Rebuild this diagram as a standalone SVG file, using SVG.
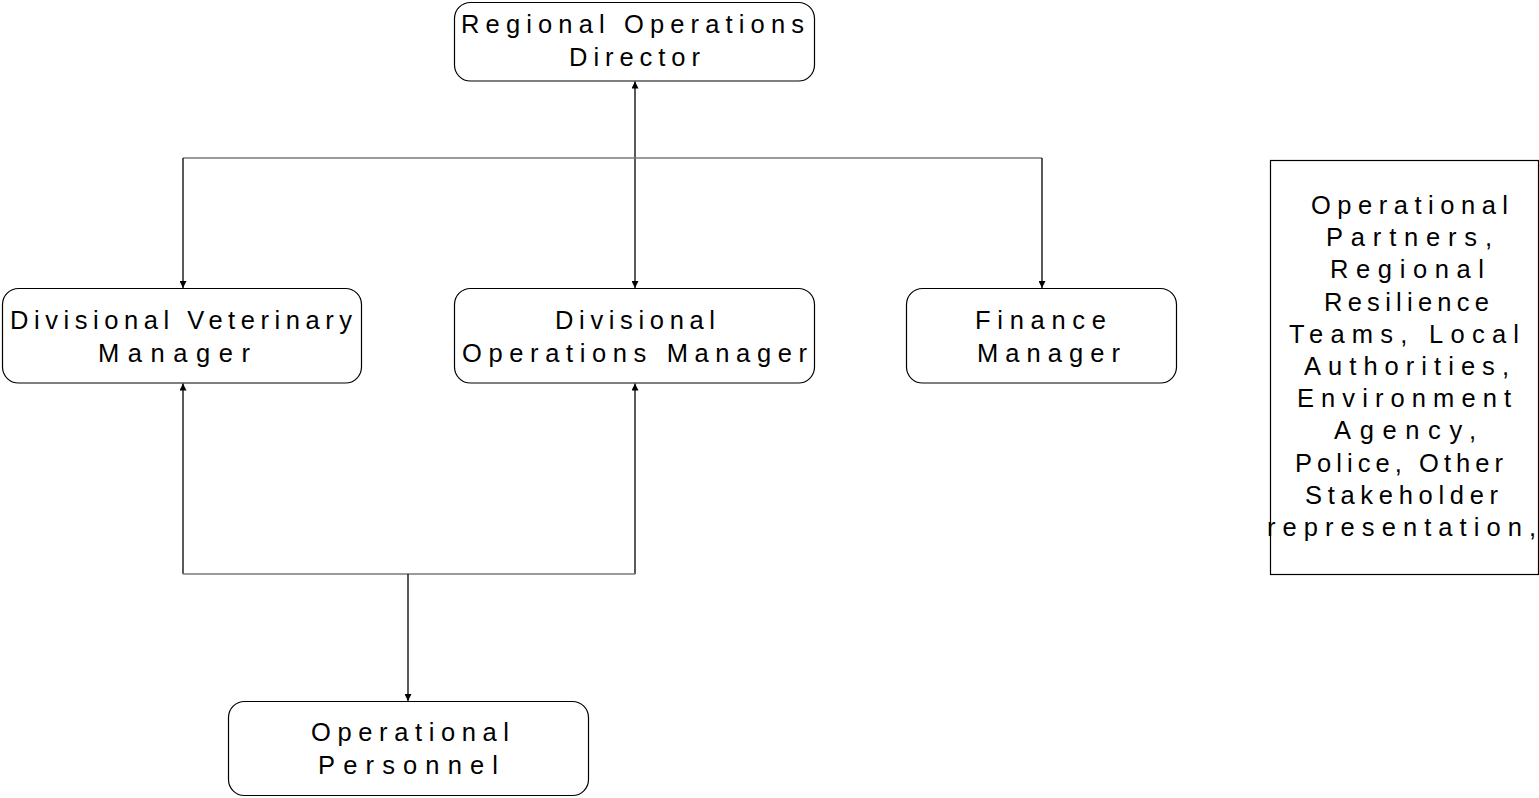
<svg xmlns="http://www.w3.org/2000/svg" width="1539" height="798" viewBox="0 0 1539 798">
<style>
.box{fill:#fff;stroke:#000;stroke-width:1.2}
.t{font-family:"Liberation Sans",Arial,sans-serif;font-size:25.5px;fill:#000}
.v{stroke:#000;stroke-width:1.3;fill:none}
.h{stroke:#7a7a7a;stroke-width:1.6;fill:none}
</style>
<defs>
<marker id="ah" viewBox="0 0 10 10" refX="10" refY="5" markerWidth="7" markerHeight="7" markerUnits="userSpaceOnUse" orient="auto-start-reverse">
<path d="M0,0 L10,5 L0,10 z" fill="#000"/>
</marker>
</defs>
<g id="connectors">
<line class="v" x1="635" y1="81.5" x2="635" y2="288" marker-start="url(#ah)" marker-end="url(#ah)"/>
<line class="h" x1="183" y1="158" x2="1042" y2="158"/>
<line class="v" x1="183" y1="158" x2="183" y2="288" marker-end="url(#ah)"/>
<line class="v" x1="1042" y1="158" x2="1042" y2="288" marker-end="url(#ah)"/>
<line class="v" x1="183" y1="574" x2="183" y2="383.5" marker-end="url(#ah)"/>
<line class="v" x1="635" y1="574" x2="635" y2="383.5" marker-end="url(#ah)"/>
<line class="h" x1="183" y1="574" x2="635" y2="574"/>
<line class="v" x1="408" y1="574" x2="408" y2="701" marker-end="url(#ah)"/>
</g>
<g id="regional-operations-director">
<rect class="box" x="454.5" y="2.5" width="360" height="78.5" rx="16"/>
<text class="t" x="461" y="33" textLength="343" lengthAdjust="spacing">Regional Operations</text>
<text class="t" x="569" y="66" textLength="131" lengthAdjust="spacing">Director</text>
</g>
<g id="divisional-veterinary-manager">
<rect class="box" x="2.5" y="288.5" width="359" height="94.5" rx="16"/>
<text class="t" x="10" y="329" textLength="342" lengthAdjust="spacing">Divisional Veterinary</text>
<text class="t" x="98" y="362" textLength="152" lengthAdjust="spacing">Manager</text>
</g>
<g id="divisional-operations-manager">
<rect class="box" x="454.5" y="288.5" width="360" height="94.5" rx="16"/>
<text class="t" x="555" y="329" textLength="160" lengthAdjust="spacing">Divisional</text>
<text class="t" x="462" y="362" textLength="345" lengthAdjust="spacing">Operations Manager</text>
</g>
<g id="finance-manager">
<rect class="box" x="906.5" y="288.5" width="270" height="94.5" rx="16"/>
<text class="t" x="975" y="329" textLength="131" lengthAdjust="spacing">Finance</text>
<text class="t" x="977" y="362" textLength="143" lengthAdjust="spacing">Manager</text>
</g>
<g id="operational-personnel">
<rect class="box" x="228.5" y="701.5" width="360" height="94" rx="16"/>
<text class="t" x="311" y="741" textLength="198" lengthAdjust="spacing">Operational</text>
<text class="t" x="318" y="774" textLength="180" lengthAdjust="spacing">Personnel</text>
</g>
<g id="stakeholders">
<rect class="box" x="1270.5" y="160.5" width="268" height="414"/>
<text class="t" x="1311" y="214" textLength="197" lengthAdjust="spacing">Operational</text>
<text class="t" x="1326" y="246" textLength="166" lengthAdjust="spacing">Partners,</text>
<text class="t" x="1330" y="278" textLength="154" lengthAdjust="spacing">Regional</text>
<text class="t" x="1324" y="311" textLength="165" lengthAdjust="spacing">Resilience</text>
<text class="t" x="1289" y="343" textLength="230" lengthAdjust="spacing">Teams, Local</text>
<text class="t" x="1304" y="375" textLength="205" lengthAdjust="spacing">Authorities,</text>
<text class="t" x="1297" y="407" textLength="214" lengthAdjust="spacing">Environment</text>
<text class="t" x="1334" y="439" textLength="142" lengthAdjust="spacing">Agency,</text>
<text class="t" x="1295" y="472" textLength="208" lengthAdjust="spacing">Police, Other</text>
<text class="t" x="1305" y="504" textLength="193" lengthAdjust="spacing">Stakeholder</text>
<text class="t" x="1267" y="536" textLength="269" lengthAdjust="spacing">representation,</text>
</g>
</svg>
